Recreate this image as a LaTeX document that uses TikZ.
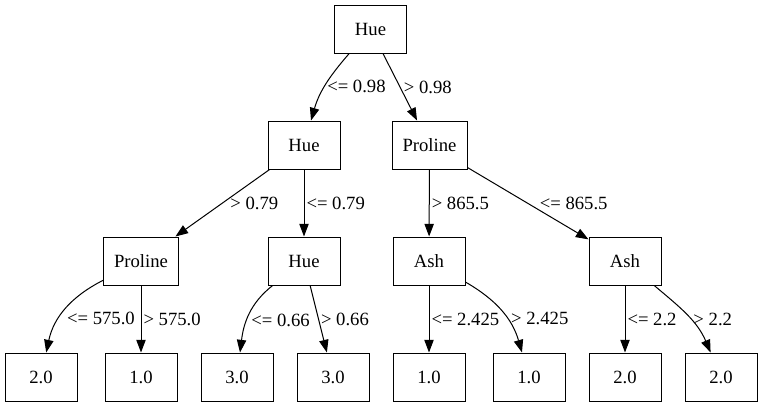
\documentclass[tikz,border=0pt]{standalone}
\usepackage{fontspec}
\setmainfont{Liberation Serif}
\usetikzlibrary{arrows.meta}
\begin{document}
\begin{tikzpicture}[x=0.75pt,y=-0.75pt,
    box/.style={draw,line width=0.75pt,minimum width=54pt,minimum height=36pt,
        inner xsep=7.9pt,inner ysep=4pt,font=\fontsize{14}{16}\selectfont},
    edge/.style={line width=0.75pt,-{Triangle[length=9.5pt,width=7pt]}},
    cond/.style={right,inner sep=1.5pt,font=\fontsize{14}{16}\selectfont}]
    \useasboundingbox (0,0) rectangle (763,407);
    \node[box] (root) at (370.5,29) {Hue};
    \node[box] (hueL) at (304,145) {Hue};
    \node[box] (proR) at (429.5,145) {Proline};
    \node[box] (proLL) at (141,261) {Proline};
    \node[box] (hueLR) at (304,261) {Hue};
    \node[box] (ashRL) at (429,261) {Ash};
    \node[box] (ashRR) at (625,261) {Ash};
    \node[box] (leafA) at (41,377) {2.0};
    \node[box] (leafB) at (141,377) {1.0};
    \node[box] (leafC) at (237,377) {3.0};
    \node[box] (leafD) at (333,377) {3.0};
    \node[box] (leafE) at (429,377) {1.0};
    \node[box] (leafF) at (529,377) {1.0};
    \node[box] (leafG) at (625,377) {2.0};
    \node[box] (leafH) at (721,377) {2.0};
    \draw[edge] (root) to[out=229,in=74] node[cond,pos=0.53] {<= 0.98} (hueL);
    \draw[edge] (root) -- node[cond,xshift=1pt] {> 0.98} (proR);
    \draw[edge] (hueL) -- node[cond,xshift=4pt] {> 0.79} (proLL);
    \draw[edge] (hueL) -- node[cond] {<= 0.79} (hueLR);
    \draw[edge] (proR) -- node[cond] {> 865.5} (ashRL);
    \draw[edge] (proR) -- node[cond,xshift=7pt] {<= 865.5} (ashRR);
    \draw[edge] (proLL) to[out=207,in=78] node[cond,pos=0.62,xshift=4pt] {<= 575.0} (leafA);
    \draw[edge] (proLL) -- node[cond] {> 575.0} (leafB);
    \draw[edge] (hueLR) to[out=218,in=83] node[cond,pos=0.58,xshift=1.5pt] {<= 0.66} (leafC);
    \draw[edge] (hueLR) -- node[cond] {> 0.66} (leafD);
    \draw[edge] (ashRL) -- node[cond] {<= 2.425} (leafE);
    \draw[edge] (ashRL) to[out=330,in=106] node[cond,pos=0.6,xshift=1.5pt] {> 2.425} (leafF);
    \draw[edge] (ashRR) -- node[cond] {<= 2.2} (leafG);
    \draw[edge] (ashRR) to[out=320,in=113] node[cond,pos=0.57] {> 2.2} (leafH);
\end{tikzpicture}
\end{document}
